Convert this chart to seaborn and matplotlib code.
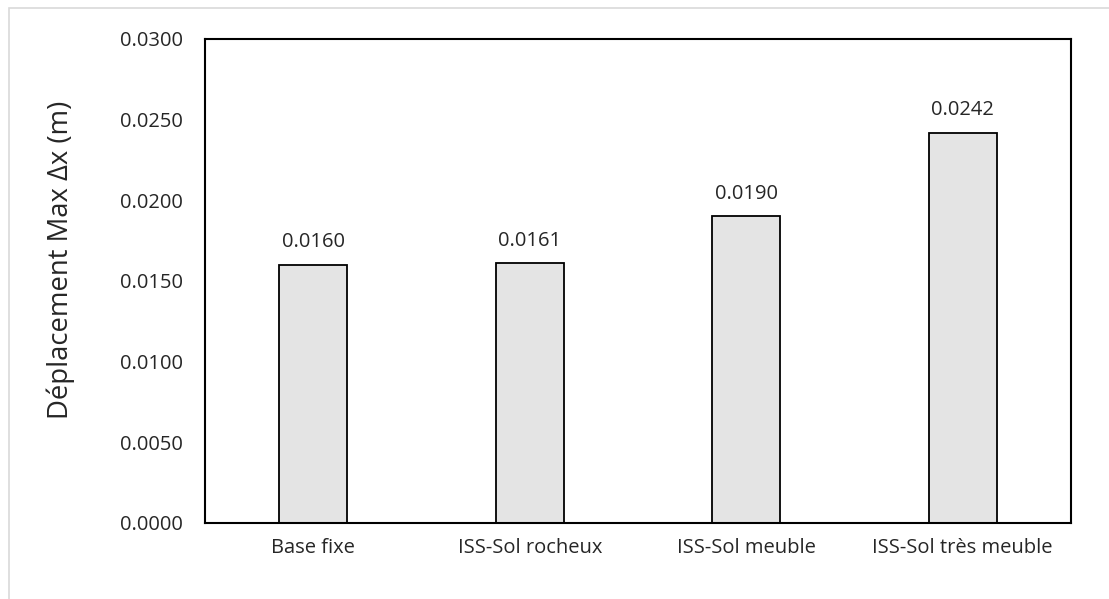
import matplotlib
matplotlib.use("Agg")
import matplotlib.pyplot as plt
import seaborn as sns
import pandas as pd
from matplotlib.patches import Rectangle

categories = ["Base fixe", "ISS-Sol rocheux", "ISS-Sol meuble", "ISS-Sol très meuble"]
values = [0.0160, 0.0161, 0.0190, 0.0242]
yticks = [0.0, 0.005, 0.010, 0.015, 0.020, 0.025, 0.030]

sns.set_theme(style="white")
plt.rcParams["font.family"] = ["Open Sans", "DejaVu Sans"]

df = pd.DataFrame({"cas": categories, "dx": values})

fig = plt.figure(figsize=(11.09, 5.99), dpi=100)
ax = fig.add_axes([205 / 1109, 1 - 523 / 599, 866 / 1109, 484 / 599])

sns.barplot(data=df, x="cas", y="dx", ax=ax, color="#e4e4e4",
            edgecolor="black", linewidth=1.3, width=0.315, saturation=1)

ax.set_ylim(0, 0.030)
ax.set_yticks(yticks)
ax.set_yticklabels([f"{v:.4f}" for v in yticks], fontsize=14.5)
ax.tick_params(axis="x", labelsize=14.5, length=0, pad=11)
ax.tick_params(axis="y", length=0, pad=16)
ax.set_xlabel("")
ax.set_ylabel("Déplacement Max Δx (m)", fontsize=19.8)
ax.yaxis.set_label_coords(-0.150, 0.543)

for spine in ax.spines.values():
    spine.set_visible(True)
    spine.set_color("black")
    spine.set_linewidth(1.5)

for i, v in enumerate(values):
    ax.annotate(f"{v:.4f}", (i, v), xytext=(0, 9), textcoords="offset points",
                ha="center", va="bottom", fontsize=14.5)

# light frame around the chart
fig.patches.append(Rectangle((9 / 1109, -0.05), 1.2, 1 - 8 / 599 + 0.05,
                             transform=fig.transFigure, fill=False,
                             edgecolor="#d9d9d9", linewidth=1.2))

fig.savefig("out.png", dpi=100)
